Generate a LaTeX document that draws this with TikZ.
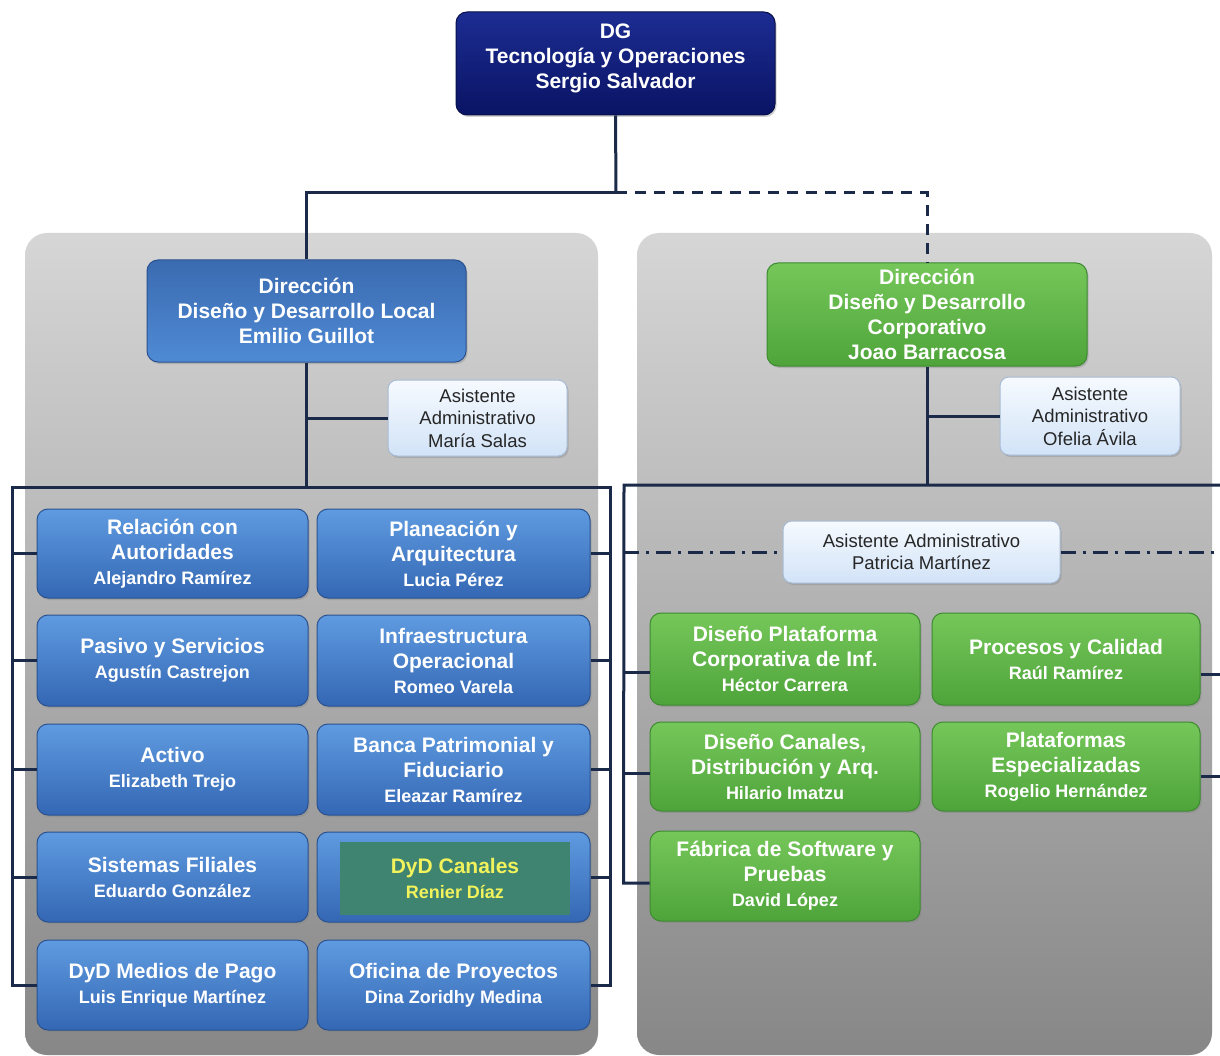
\documentclass[tikz,border=0pt]{standalone}
\usepackage{fontspec}
\setmainfont{Liberation Sans}
\usetikzlibrary{shadows}
\definecolor{lineC}{HTML}{1B2A48}
\definecolor{navyTop}{HTML}{1C2C92}
\definecolor{navyBot}{HTML}{0A1464}
\definecolor{navyLine}{HTML}{08104A}
\definecolor{blueTop}{HTML}{5F9BE0}
\definecolor{blueBot}{HTML}{3467B4}
\definecolor{blueLine}{HTML}{2A5290}
\definecolor{dirTop}{HTML}{3A6BB0}
\definecolor{dirBot}{HTML}{4F8AD5}
\definecolor{greenTop}{HTML}{76C75A}
\definecolor{greenBot}{HTML}{4EA43A}
\definecolor{greenLine}{HTML}{3D8A30}
\definecolor{asTop}{HTML}{F6FAFF}
\definecolor{asBot}{HTML}{D2E3F7}
\definecolor{asLine}{HTML}{A8BBD4}
\definecolor{panTop}{HTML}{D6D6D6}
\definecolor{panMid}{HTML}{C2C2C2}
\definecolor{panBot}{HTML}{878787}
\definecolor{tealIn}{HTML}{3F8470}
\definecolor{yellowT}{HTML}{F2F25C}
\newcommand{\nmfont}{\fontsize{18}{22}\selectfont}
\begin{document}
\begin{tikzpicture}[x=1pt,y=-1pt,
  conn/.style={draw=lineC, line width=3pt},
  panel/.style={rounded corners=22pt, top color=panTop, middle color=panMid, bottom color=panBot, draw=none, inner sep=0pt},
  box/.style={rounded corners=11pt, line width=1pt, align=center, inner sep=2pt,
    drop shadow={opacity=0.35, shadow xshift=1.5pt, shadow yshift=-2pt}},
  navybox/.style={box, top color=navyTop, bottom color=navyBot, draw=navyLine, text=white,
    font=\fontsize{21}{25}\selectfont\bfseries},
  dirbox/.style={box, top color=dirTop, bottom color=dirBot, draw=blueLine, text=white,
    font=\fontsize{21}{25}\selectfont\bfseries},
  bluebox/.style={box, top color=blueTop, bottom color=blueBot, draw=blueLine, text=white,
    font=\fontsize{21}{25}\selectfont\bfseries},
  greenbox/.style={box, top color=greenTop, bottom color=greenBot, draw=greenLine, text=white,
    font=\fontsize{21}{25}\selectfont\bfseries},
  asbox/.style={box, rounded corners=9pt, top color=asTop, bottom color=asBot, draw=asLine, text=black!85,
    font=\fontsize{18.5}{22.5}\selectfont},
  dashline/.style={conn, dash pattern=on 11pt off 8pt},
  dotdash/.style={conn, dash pattern=on 15pt off 7pt on 3pt off 7pt}
]
\useasboundingbox (0,0) rectangle (1220,1056);
\fill[white] (0,0) rectangle (1220,1056);

% panels
\node[panel, minimum width=573pt, minimum height=822pt] (pL) at (311.5,644) {};
\node[panel, minimum width=575pt, minimum height=822pt] (pR) at (924.5,644) {};

% top
\node[navybox, minimum width=319pt, minimum height=103pt, text depth=14pt] (dg) at (615.5,63.5)
  {DG\\Tecnología y Operaciones\\Sergio Salvador};

% directions
\node[dirbox, minimum width=319pt, minimum height=102pt] (dirL) at (306.5,311)
  {Dirección\\Diseño y Desarrollo Local\\Emilio Guillot};
\node[greenbox, minimum width=320pt, minimum height=103pt] (dirC) at (927,314.5)
  {Dirección\\Diseño y Desarrollo\\Corporativo\\Joao Barracosa};

% assistants
\node[asbox, minimum width=179pt, minimum height=76pt] (asL) at (477.5,418)
  {Asistente\\Administrativo\\María Salas};
\node[asbox, minimum width=180pt, minimum height=78pt] (asC) at (1090,416)
  {Asistente\\Administrativo\\Ofelia Ávila};
\node[asbox, minimum width=277pt, minimum height=62pt] (asP) at (921.5,552)
  {Asistente Administrativo\\Patricia Martínez};

% coordinates of buses
\coordinate (j) at (616,193);
\coordinate (busLL) at (12,487);
\coordinate (busLR) at (610,487);
\coordinate (busLM) at (306.5,487);
\coordinate (busRL) at (624,485);
\coordinate (busRR) at (1220,485);
\coordinate (busRM) at (927,485);
\coordinate (edgeR) at (1220,552);

% left blue boxes
\node[bluebox, minimum width=271pt, minimum height=89pt] (b1) at (172.5,553.5)
  {Relación con\\Autoridades\\{\nmfont Alejandro Ramírez}};
\node[bluebox, minimum width=273pt, minimum height=89pt] (c1) at (453.5,553.5)
  {Planeación y\\Arquitectura\\{\nmfont Lucia Pérez}};
\node[bluebox, minimum width=271pt, minimum height=91pt] (b2) at (172.5,660.5)
  {Pasivo y Servicios\\{\nmfont Agustín Castrejon}};
\node[bluebox, minimum width=273pt, minimum height=91pt] (c2) at (453.5,660.5)
  {Infraestructura\\Operacional\\{\nmfont Romeo Varela}};
\node[bluebox, minimum width=271pt, minimum height=91pt] (b3) at (172.5,769.5)
  {Activo\\{\nmfont Elizabeth Trejo}};
\node[bluebox, minimum width=273pt, minimum height=91pt] (c3) at (453.5,769.5)
  {Banca Patrimonial y\\Fiduciario\\{\nmfont Eleazar Ramírez}};
\node[bluebox, minimum width=271pt, minimum height=90pt] (b4) at (172.5,877)
  {Sistemas Filiales\\{\nmfont Eduardo González}};
\node[bluebox, minimum width=273pt, minimum height=90pt] (c4) at (453.5,877) {};
\node[fill=tealIn, minimum width=230pt, minimum height=73pt, inner sep=0pt, align=center,
  text=yellowT, font=\fontsize{21}{25}\selectfont\bfseries] (c4in) at (455,878.5)
  {DyD Canales\\{\nmfont Renier Díaz}};
\node[bluebox, minimum width=271pt, minimum height=90pt] (b5) at (172.5,985)
  {DyD Medios de Pago\\{\nmfont Luis Enrique Martínez}};
\node[bluebox, minimum width=273pt, minimum height=90pt] (c5) at (453.5,985)
  {Oficina de Proyectos\\{\nmfont Dina Zoridhy Medina}};

% green boxes
\node[greenbox, minimum width=270pt, minimum height=92pt] (g1) at (785,659)
  {Diseño Plataforma\\Corporativa de Inf.\\{\nmfont Héctor Carrera}};
\node[greenbox, minimum width=268pt, minimum height=92pt] (h1) at (1066,659)
  {Procesos y Calidad\\{\nmfont Raúl Ramírez}};
\node[greenbox, minimum width=270pt, minimum height=89pt] (g2) at (785,766.5)
  {Diseño Canales,\\Distribución y Arq.\\{\nmfont Hilario Imatzu}};
\node[greenbox, minimum width=268pt, minimum height=89pt] (h2) at (1066,766.5)
  {Plataformas\\Especializadas\\{\nmfont Rogelio Hernández}};
\node[greenbox, minimum width=270pt, minimum height=90pt] (g3) at (785,876)
  {Fábrica de Software y\\Pruebas\\{\nmfont David López}};

% top connectors
\draw[conn] (dg.south) -- (j);
\draw[conn] (j) -| (dirL.north);
\draw[dashline] (j) -| (dirC.north);

% left structure
\draw[conn] (dirL.south) -- (busLM);
\draw[conn] (dirL.south |- asL.west) -- (asL.west);
\draw[conn] (b5.west) -- (busLL |- b5.west) -- (busLL) -- (busLR) -- (busLR |- c5.east) -- (c5.east);
\foreach \n in {b1,b2,b3,b4} \draw[conn] (busLL |- \n.west) -- (\n.west);
\foreach \n in {c1,c2,c3,c4} \draw[conn] (\n.east) -- (busLR |- \n.east);

% right structure
\draw[conn] (dirC.south) -- (busRM);
\draw[conn] (dirC.south |- asC.west) -- (asC.west);
\draw[conn] ([yshift=-7pt]g3.west) -- ++(-26,0) -- (busRL) -- (busRR);
\draw[dotdash] (busRL |- asP.west) -- (asP.west);
\draw[dotdash] (asP.east) -- (edgeR);
\draw[conn] (busRL |- g1.west) ++(0,13) -- ([yshift=-13pt]g1.west);
\draw[conn] (busRL |- g2.west) ++(0,7) -- ([yshift=-7pt]g2.west);
\draw[conn] ([yshift=-15pt]h1.east) -- ++(20,0);
\draw[conn] ([yshift=-10pt]h2.east) -- ++(20,0);
\end{tikzpicture}
\end{document}
